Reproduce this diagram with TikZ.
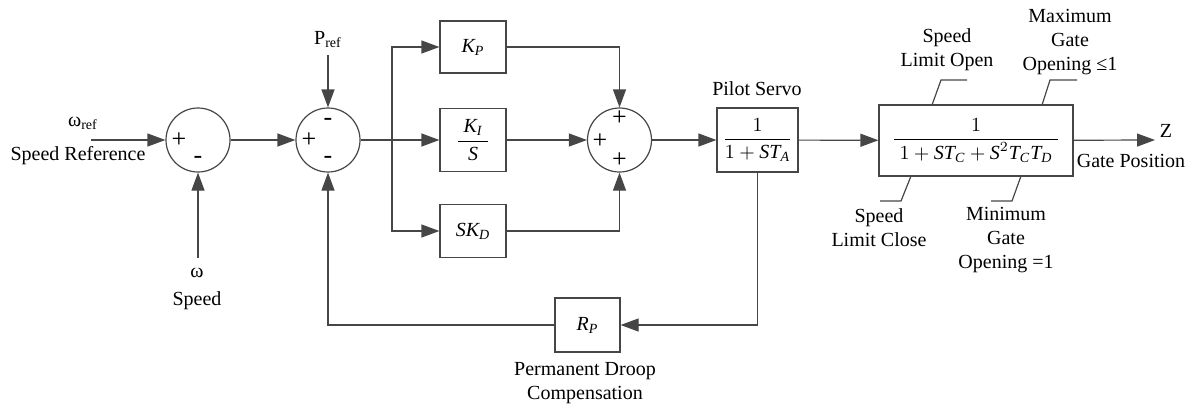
\documentclass[tikz,border=0pt]{standalone}
\usepackage{amsmath}
\usepackage{fontspec}
\setmainfont{Liberation Serif}
\usepackage{tikz}
\usetikzlibrary{arrows.meta}
\usepackage{xcolor}
\definecolor{linegray}{RGB}{70,70,70}
\newcommand{\subref}[1]{#1\textsubscript{ref}}
\newcommand{\mi}[1]{\text{\itshape #1}}

\begin{document}
\begin{tikzpicture}[x=0.5pt,y=-0.5pt]
\tikzstyle{every node}=[font=\fontsize{10}{12}\selectfont]
\tikzstyle{blk}=[draw=linegray,line width=0.6pt,inner sep=0pt]
\tikzstyle{sumnode}=[draw=linegray,line width=0.6pt,circle,minimum size=32pt,inner sep=0pt]
\tikzstyle{sign}=[font=\fontsize{13}{13}\selectfont,inner sep=0pt]
\tikzstyle{wire}=[draw=linegray,line width=0.6pt]
\tikzstyle{arr}=[wire,-{Triangle[length=9pt,width=6.5pt]}]
\tikzstyle{note}=[align=center,inner sep=0pt]
\useasboundingbox (0,0) rectangle (1203,408);
% summing junctions
\node[sumnode] (sumA) at (198,140) {};
\node[sign] at (179,140) {+};
\node[sign] at (198,160) {-};
\node[sumnode] (sumB) at (328,140) {};
\node[sign] at (309,140) {+};
\node[sign] at (328,122) {-};
\node[sign] at (328,160) {-};
\node[sumnode] (sumC) at (619.5,140) {};
\node[sign] at (619.5,118) {+};
\node[sign] at (600,141) {+};
\node[sign] at (619.5,160) {+};
% blocks
\node[blk,minimum width=33pt,minimum height=26pt] (kp) at (473,47) {$\mi{K}_{\mi{P}}$};
\node[blk,minimum width=33pt,minimum height=31.5pt] (ki) at (473,140) {$\dfrac{\;\mi{K}_{\mi{I}}\;}{\mi{S}}$};
\node[blk,minimum width=33pt,minimum height=26.5pt] (skd) at (473,231) {$\mi{SK}_{\mi{D}}$};
\node[blk,minimum width=40.5pt,minimum height=32pt] (pilot) at (757.5,140) {$\dfrac{1}{1+\mi{ST}_{\mi{A}}}$};
\node[blk,minimum width=97pt,minimum height=35.5pt] (gate) at (976,140.5) {$\dfrac{1}{\;1+\mi{ST}_{\mi{C}}+\mi{S}^2\mi{T}_{\mi{C}}\mi{T}_{\mi{D}}\;}$};
\node[blk,minimum width=32.5pt,minimum height=27pt] (rp) at (587.5,325) {$\mi{R}_{\mi{P}}$};
% free ends
\coordinate (wref) at (91,140);
\coordinate (win) at (198,258);
\coordinate (pref) at (328,55);
\coordinate (br) at (392,140);
\coordinate (zout) at (1155,140);
% connectors
\draw[arr] (wref) -- (sumA);
\draw[arr] (win) -- (sumA);
\draw[arr] (sumA) -- (sumB);
\draw[arr] (pref) -- (sumB);
\draw[arr] (sumB) -- (ki);
\draw[arr] (br) |- (kp);
\draw[arr] (br) |- (skd);
\draw[arr] (kp) -| (sumC);
\draw[arr] (ki) -- (sumC);
\draw[arr] (skd) -| (sumC);
\draw[arr] (sumC) -- (pilot);
\draw[arr] (pilot) -- (gate);
\draw[arr] (gate) -- (zout);
\draw[arr] (pilot.south) |- (rp);
\draw[arr] (rp) -| (sumB.south);
% labels
\node at (83,123) {\subref{ω}};
\node at (78,156) {Speed Reference};
\node at (197,273) {ω};
\node at (197,301) {Speed};
\node at (328,40) {\subref{P}};
\node at (757,89) {Pilot Servo};
\node[note] at (585,383) {Permanent Droop\\Compensation};
\node at (1166,131) {Z};
\node at (1131,161) {Gate Position};
% limiter notes
\coordinate (slo) at (932,105);
\coordinate (mgo) at (1042,105);
\coordinate (slc) at (911,176);
\coordinate (mgc) at (1021,176);
\draw[wire] (slo) -- (941,80) -- (967,80);
\draw[wire] (mgo) -- (1050,80) -- (1077,80);
\draw[wire] (slc) -- (901,201) -- (880,201);
\draw[wire] (mgc) -- (1012,201) -- (991,201);
\node[note] at (947,50) {Speed\\Limit Open};
\node[note] at (1070,42) {Maximum\\Gate\\Opening ≤1};
\node[note] at (879,228) {Speed\\Limit Close};
\node[note] at (1006,240) {Minimum\\Gate\\Opening =1};
\end{tikzpicture}
\end{document}
